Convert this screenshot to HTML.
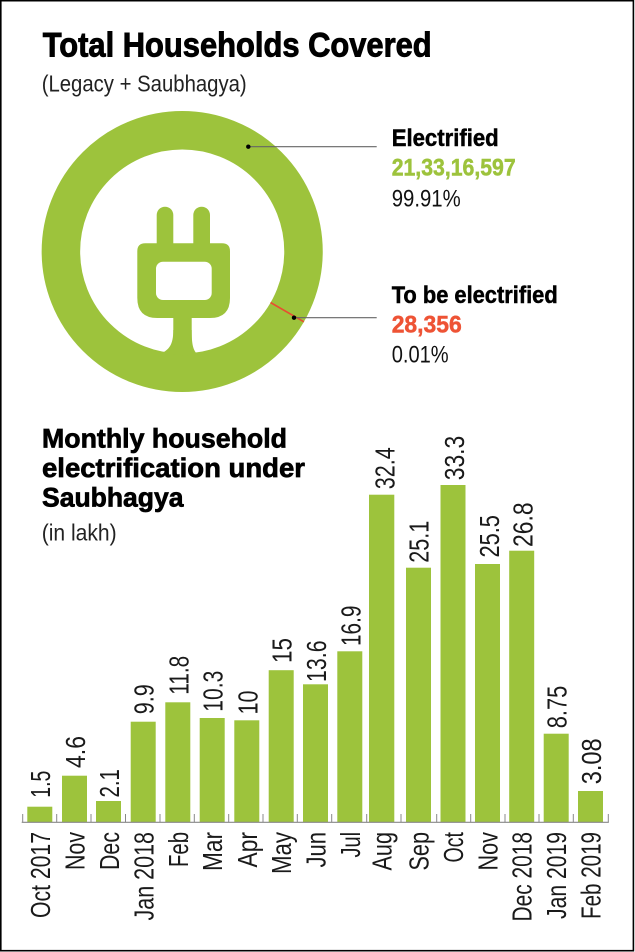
<!DOCTYPE html>
<html>
<head>
<meta charset="utf-8">
<style>
  html,body{margin:0;padding:0;background:#fff;}
  svg{display:block;}
  .t{font-family:"Liberation Sans",Arial,sans-serif;}
  .b{font-weight:bold;}
  .lab{font-family:"Liberation Sans",Arial,sans-serif;font-size:28px;fill:#1a1a1a;}
</style>
</head>
<body>
<svg width="635" height="952" viewBox="0 0 635 952" xmlns="http://www.w3.org/2000/svg">
  <rect x="0" y="0" width="635" height="952" fill="#fff"/>
  <rect x="0.8" y="0.7" width="632.6" height="950" fill="none" stroke="#000" stroke-width="1.6"/>

  <!-- Title -->
  <text class="t b" x="42.7" y="56.7" font-size="34" fill="#000" stroke="#000" stroke-width="0.9" textLength="389" lengthAdjust="spacingAndGlyphs">Total Households Covered</text>
  <text class="t" x="41.7" y="91.5" font-size="23" fill="#222" textLength="205" lengthAdjust="spacingAndGlyphs">(Legacy + Saubhagya)</text>

  <!-- Donut -->
  <circle cx="182.2" cy="251.5" r="121.3" fill="none" stroke="#9DC33C" stroke-width="38.5"/>
  <!-- Plug -->
  <g fill="#9DC33C">
    <rect x="156.7" y="206.7" width="16.6" height="46" rx="8.3" ry="8.3"/>
    <rect x="193.3" y="206.7" width="16.7" height="46" rx="8.3" ry="8.3"/>
    <path d="M145.3,243.3 H222 Q230,243.3 230,251.3 V298 Q230,318 210,318 H157.3 Q137.3,318 137.3,298 V251.3 Q137.3,243.3 145.3,243.3 Z"/>
    <rect x="173.3" y="310" width="18.4" height="44"/>
    <path d="M173.3,330 C173.3,345 169,350 160,354 L200,356 C193,352 191.7,345 191.7,330 Z"/>
  </g>
  <rect x="156" y="261.7" width="55.7" height="38.3" rx="7" ry="7" fill="#fff"/>
  <!-- red tick -->
  <line x1="270.5" y1="302.5" x2="303.9" y2="321.8" stroke="#E84E31" stroke-width="1.6"/>

  <!-- Leader lines -->
  <line x1="248.3" y1="146.7" x2="376.7" y2="146.7" stroke="#666" stroke-width="1.2"/>
  <circle cx="248.3" cy="146.7" r="2.2" fill="#000"/>
  <line x1="294" y1="317.7" x2="376.7" y2="317.7" stroke="#666" stroke-width="1.2"/>
  <circle cx="294" cy="317.7" r="2.2" fill="#000"/>

  <!-- Legend text -->
  <text class="t b" x="391.7" y="146" font-size="24" fill="#000" stroke="#000" stroke-width="0.5" textLength="107" lengthAdjust="spacingAndGlyphs">Electrified</text>
  <text class="t b" x="391.7" y="175.5" font-size="24" fill="#9DC33C" stroke="#9DC33C" stroke-width="0.5" textLength="124" lengthAdjust="spacingAndGlyphs">21,33,16,597</text>
  <text class="t" x="391.7" y="206.5" font-size="24" fill="#111" textLength="69" lengthAdjust="spacingAndGlyphs">99.91%</text>

  <text class="t b" x="391.7" y="303" font-size="24" fill="#000" stroke="#000" stroke-width="0.5" textLength="166" lengthAdjust="spacingAndGlyphs">To be electrified</text>
  <text class="t b" x="391.7" y="332.5" font-size="24" fill="#EE5335" stroke="#EE5335" stroke-width="0.5" textLength="70" lengthAdjust="spacingAndGlyphs">28,356</text>
  <text class="t" x="391.7" y="362.5" font-size="24" fill="#111" textLength="57" lengthAdjust="spacingAndGlyphs">0.01%</text>

  <!-- Section title -->
  <text class="t b" x="42" y="447.3" font-size="27" fill="#000" stroke="#000" stroke-width="0.7" textLength="245" lengthAdjust="spacingAndGlyphs">Monthly household</text>
  <text class="t b" x="42" y="476.8" font-size="27" fill="#000" stroke="#000" stroke-width="0.7" textLength="263" lengthAdjust="spacingAndGlyphs">electrification under</text>
  <text class="t b" x="42" y="506.5" font-size="27" fill="#000" stroke="#000" stroke-width="0.7" textLength="141.5" lengthAdjust="spacingAndGlyphs">Saubhagya</text>
  <text class="t" x="41.7" y="540.5" font-size="23" fill="#222" textLength="75" lengthAdjust="spacingAndGlyphs">(in lakh)</text>

  <!-- Bars -->
  <g fill="#9DC33C">
    <rect x="27.3" y="806.7" width="25" height="15.6"/>
    <rect x="62" y="775.7" width="25" height="46.6"/>
    <rect x="96" y="801" width="25" height="21.3"/>
    <rect x="130.7" y="721.7" width="25" height="100.6"/>
    <rect x="165.3" y="702.3" width="25" height="120"/>
    <rect x="199.7" y="718" width="25" height="104.3"/>
    <rect x="234.3" y="720.3" width="25" height="102"/>
    <rect x="268.7" y="670.2" width="25" height="152.1"/>
    <rect x="303" y="684.3" width="25" height="138"/>
    <rect x="337.3" y="651.3" width="25" height="171"/>
    <rect x="369" y="494.7" width="25.3" height="327.6"/>
    <rect x="406" y="567.7" width="25" height="254.6"/>
    <rect x="440.5" y="485" width="25" height="337.3"/>
    <rect x="475" y="564" width="25" height="258.3"/>
    <rect x="509.2" y="550.7" width="25" height="271.6"/>
    <rect x="543.7" y="733.7" width="25" height="88.6"/>
    <rect x="578" y="791" width="25" height="31.3"/>
  </g>

  <!-- Axis -->
  <line x1="21.7" y1="822.3" x2="608.8" y2="822.3" stroke="#888" stroke-width="1.2"/>
  <g stroke="#888" stroke-width="1">
    <line x1="22.7" y1="814" x2="22.7" y2="822.3"/>
    <line x1="56.7" y1="814" x2="56.7" y2="822.3"/>
    <line x1="91" y1="814" x2="91" y2="822.3"/>
    <line x1="125.5" y1="814" x2="125.5" y2="822.3"/>
    <line x1="160" y1="814" x2="160" y2="822.3"/>
    <line x1="194.3" y1="814" x2="194.3" y2="822.3"/>
    <line x1="228.7" y1="814" x2="228.7" y2="822.3"/>
    <line x1="263" y1="814" x2="263" y2="822.3"/>
    <line x1="297.3" y1="814" x2="297.3" y2="822.3"/>
    <line x1="331.7" y1="814" x2="331.7" y2="822.3"/>
    <line x1="366.7" y1="814" x2="366.7" y2="822.3"/>
    <line x1="401" y1="814" x2="401" y2="822.3"/>
    <line x1="436.7" y1="814" x2="436.7" y2="822.3"/>
    <line x1="470.7" y1="814" x2="470.7" y2="822.3"/>
    <line x1="505" y1="814" x2="505" y2="822.3"/>
    <line x1="539" y1="814" x2="539" y2="822.3"/>
    <line x1="573.3" y1="814" x2="573.3" y2="822.3"/>
    <line x1="608.3" y1="814" x2="608.3" y2="822.3"/>
  </g>

  <!-- Value labels (rotated) -->
  <g class="lab" text-anchor="middle">
    <text transform="translate(50,784.2) rotate(-90)" textLength="27" lengthAdjust="spacingAndGlyphs">1.5</text>
    <text transform="translate(85,752) rotate(-90)" textLength="32" lengthAdjust="spacingAndGlyphs">4.6</text>
    <text transform="translate(119,783.3) rotate(-90)" textLength="28.5" lengthAdjust="spacingAndGlyphs">2.1</text>
    <text transform="translate(153.3,699.2) rotate(-90)" textLength="30" lengthAdjust="spacingAndGlyphs">9.9</text>
    <text transform="translate(188.3,675.3) rotate(-90)" textLength="39" lengthAdjust="spacingAndGlyphs">11.8</text>
    <text transform="translate(222.7,691.2) rotate(-90)" textLength="41" lengthAdjust="spacingAndGlyphs">10.3</text>
    <text transform="translate(257.3,702.5) rotate(-90)" textLength="24" lengthAdjust="spacingAndGlyphs">10</text>
    <text transform="translate(291.5,650.5) rotate(-90)" textLength="25" lengthAdjust="spacingAndGlyphs">15</text>
    <text transform="translate(326,661.2) rotate(-90)" textLength="41.5" lengthAdjust="spacingAndGlyphs">13.6</text>
    <text transform="translate(360.5,625.8) rotate(-90)" textLength="40.5" lengthAdjust="spacingAndGlyphs">16.9</text>
    <text transform="translate(394.3,468.3) rotate(-90)" textLength="42" lengthAdjust="spacingAndGlyphs">32.4</text>
    <text transform="translate(428.3,541.7) rotate(-90)" textLength="42" lengthAdjust="spacingAndGlyphs">25.1</text>
    <text transform="translate(464,458) rotate(-90)" textLength="44.5" lengthAdjust="spacingAndGlyphs">33.3</text>
    <text transform="translate(499,536.3) rotate(-90)" textLength="42.5" lengthAdjust="spacingAndGlyphs">25.5</text>
    <text transform="translate(532.7,524.7) rotate(-90)" textLength="44.5" lengthAdjust="spacingAndGlyphs">26.8</text>
    <text transform="translate(566.7,707) rotate(-90)" textLength="42.5" lengthAdjust="spacingAndGlyphs">8.75</text>
    <text transform="translate(601.2,761.3) rotate(-90)" textLength="46" lengthAdjust="spacingAndGlyphs">3.08</text>
  </g>

  <!-- X labels (rotated) -->
  <g class="lab" text-anchor="end">
    <text transform="translate(50,832) rotate(-90)" textLength="86" lengthAdjust="spacingAndGlyphs">Oct 2017</text>
    <text transform="translate(84.7,832) rotate(-90)" textLength="38" lengthAdjust="spacingAndGlyphs">Nov</text>
    <text transform="translate(119,832) rotate(-90)" textLength="38" lengthAdjust="spacingAndGlyphs">Dec</text>
    <text transform="translate(153.3,832) rotate(-90)" textLength="88.5" lengthAdjust="spacingAndGlyphs">Jan 2018</text>
    <text transform="translate(187.8,832) rotate(-90)" textLength="35" lengthAdjust="spacingAndGlyphs">Feb</text>
    <text transform="translate(222.2,832) rotate(-90)" textLength="39" lengthAdjust="spacingAndGlyphs">Mar</text>
    <text transform="translate(256.8,832) rotate(-90)" textLength="35.5" lengthAdjust="spacingAndGlyphs">Apr</text>
    <text transform="translate(291.2,832) rotate(-90)" textLength="42" lengthAdjust="spacingAndGlyphs">May</text>
    <text transform="translate(325.5,832) rotate(-90)" textLength="35.5" lengthAdjust="spacingAndGlyphs">Jun</text>
    <text transform="translate(359.8,832) rotate(-90)" textLength="25.5" lengthAdjust="spacingAndGlyphs">Jul</text>
    <text transform="translate(391.6,832) rotate(-90)" textLength="38.5" lengthAdjust="spacingAndGlyphs">Aug</text>
    <text transform="translate(428.5,832) rotate(-90)" textLength="38.5" lengthAdjust="spacingAndGlyphs">Sep</text>
    <text transform="translate(463,832) rotate(-90)" textLength="30.5" lengthAdjust="spacingAndGlyphs">Oct</text>
    <text transform="translate(497.5,832) rotate(-90)" textLength="38.5" lengthAdjust="spacingAndGlyphs">Nov</text>
    <text transform="translate(531.7,832) rotate(-90)" textLength="89.5" lengthAdjust="spacingAndGlyphs">Dec 2018</text>
    <text transform="translate(566.2,832) rotate(-90)" textLength="87" lengthAdjust="spacingAndGlyphs">Jan 2019</text>
    <text transform="translate(600.5,832) rotate(-90)" textLength="87" lengthAdjust="spacingAndGlyphs">Feb 2019</text>
  </g>
</svg>
</body>
</html>
